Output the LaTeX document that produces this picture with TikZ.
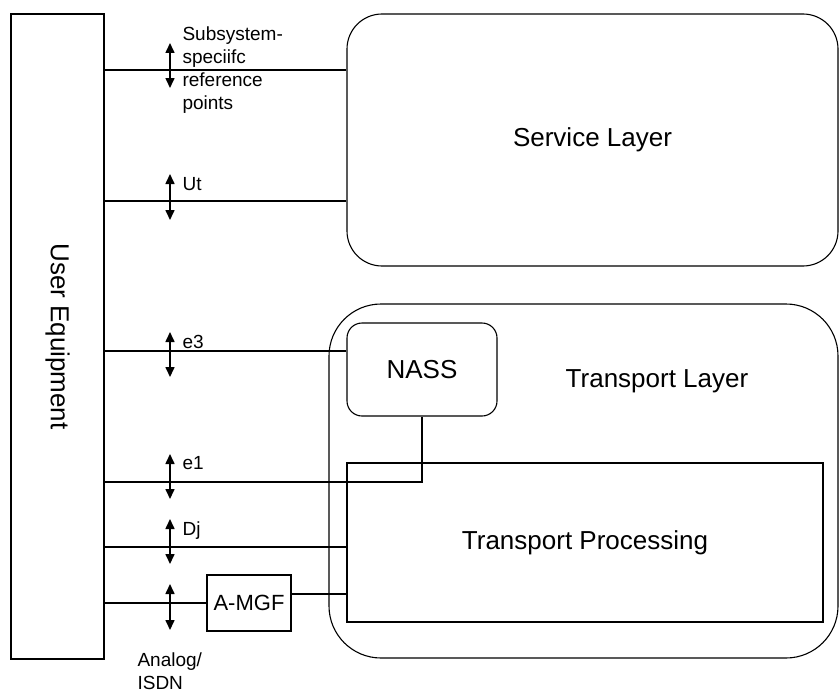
\documentclass[tikz,border=0pt]{standalone}
\usepackage{fontspec}
\setmainfont{Liberation Sans}
\usetikzlibrary{arrows.meta}
\begin{document}
\begin{tikzpicture}[x=1pt,y=-1pt,
  line width=1.1pt,
  bigfont/.style={font=\fontsize{26}{30}\selectfont},
  midfont/.style={font=\fontsize{22}{26}\selectfont},
  lblfont/.style={font=\fontsize{19}{23}\selectfont},
  box/.style={draw, inner sep=0pt, anchor=center},
  lbl/.style={lblfont, inner sep=0pt},
  iface/.style={line width=1.6pt, {Triangle[width=9pt,length=10pt]}-{Triangle[width=9pt,length=10pt]}}
]
\useasboundingbox (0,0) rectangle (840,693);

% boxes
\node[box, minimum width=93pt, minimum height=645pt,
      label={[rotate=-90,bigfont]center:User Equipment}] (ue) at (57.5,336.5) {};
\node[box, rounded corners=35pt, minimum width=491pt, minimum height=252pt, bigfont] (svc) at (592.5,140) {Service Layer};
\node[box, rounded corners=52pt, minimum width=509pt, minimum height=354pt] (tl) at (583.5,481) {};
\node[bigfont, anchor=base] (tltext) at (657,387) {Transport Layer};
\node[box, rounded corners=15pt, minimum width=150pt, minimum height=93pt, bigfont] (nass) at (422,369.5) {NASS};
\node[box, minimum width=476pt, minimum height=159pt, bigfont] (tp) at (585,542.5) {Transport Processing};
\node[box, minimum width=84pt, minimum height=56pt, midfont] (amgf) at (249,603) {A-MGF};

% connectors
\draw (ue.east |- 0,70) -- (svc.west |- 0,70);
\draw (ue.east |- 0,201) -- (svc.west |- 0,201);
\draw (ue.east |- 0,351) -- (nass.west |- 0,351);
\draw (ue.east |- 0,482) -| (nass.south);
\draw (ue.east |- 0,547) -- (tp.west |- 0,547);
\draw (ue.east |- amgf.west) -- (amgf.west);
\draw ([yshift=9pt]amgf.east) -- (tp.west |- 0,594);

% interface arrows
\coordinate (a1t) at (170,43);  \coordinate (a1b) at (170,88);
\coordinate (a2t) at (170,174); \coordinate (a2b) at (170,220);
\coordinate (a3t) at (170,332); \coordinate (a3b) at (170,377);
\coordinate (a4t) at (170,454); \coordinate (a4b) at (170,499);
\coordinate (a5t) at (170,519); \coordinate (a5b) at (170,564);
\coordinate (a6t) at (170,584); \coordinate (a6b) at (170,630);
\draw[iface] (a1t) -- (a1b);
\draw[iface] (a2t) -- (a2b);
\draw[iface] (a3t) -- (a3b);
\draw[iface] (a4t) -- (a4b);
\draw[iface] (a5t) -- (a5b);
\draw[iface] (a6t) -- (a6b);

% labels
\node[lbl, anchor=north west, align=left] (l1) at (182,26) {Subsystem-\\speciifc\\reference\\points};
\node[lbl, anchor=base west] (l2) at (182,190) {Ut};
\node[lbl, anchor=base west] (l3) at (182,348) {e3};
\node[lbl, anchor=base west] (l4) at (182,469) {e1};
\node[lbl, anchor=base west] (l5) at (182,535) {Dj};
\node[lbl, anchor=north west, align=left] (l6) at (137,652) {Analog/\\ISDN};
\end{tikzpicture}
\end{document}
